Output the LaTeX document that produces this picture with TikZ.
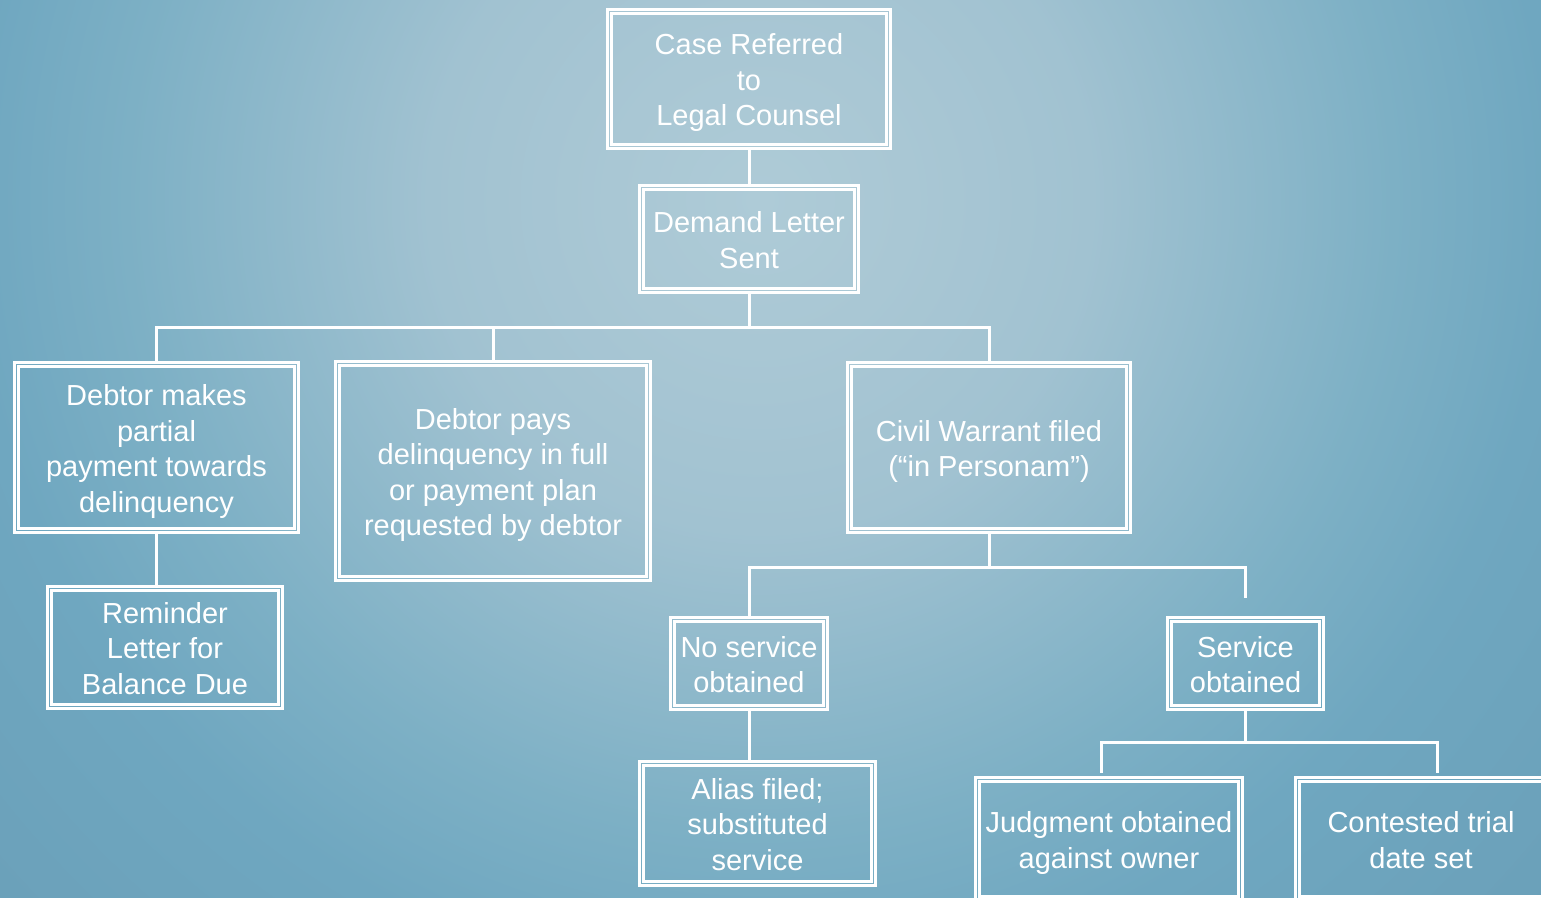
\documentclass[tikz,border=0pt]{standalone}
\usepackage{fontspec}
\setmainfont{Liberation Sans}
\definecolor{bgA}{HTML}{AECBD7}
\definecolor{bgB}{HTML}{A9C7D4}
\definecolor{bgC}{HTML}{A1C2D1}
\definecolor{bgD}{HTML}{7DB0C5}
\definecolor{bgE}{HTML}{6FA7C0}
\definecolor{bgF}{HTML}{6A9FB8}
\pgfdeclareradialshading{bgshade}{\pgfpoint{0bp}{0bp}}{color(0bp)=(bgA); color(3.1bp)=(bgB); color(6.9bp)=(bgC); color(13.2bp)=(bgD); color(16.5bp)=(bgE); color(22.9bp)=(bgF); color(25bp)=(bgF); color(50bp)=(bgF)}
\newcommand\mytop{\rule{0pt}{29.2pt}}
\begin{document}
\begin{tikzpicture}[x=1pt,y=-1pt,
  box/.style={draw=white, line width=3pt, text=white, align=center,
    font=\fontsize{29}{35.5}\selectfont, inner sep=0pt,
    execute at end node={\rule[-6.3pt]{0pt}{0pt}}},
  conn/.style={draw=white, line width=3pt},
  inbox/.style={draw=white, line width=2.5pt}]
\useasboundingbox (0,0) rectangle (1541,897);
\clip (0,0) rectangle (1541,897);
\fill[bgF] (0,0) rectangle (1541,897);
\shade[shading=bgshade] (760,200) circle (1200);

\node[box, minimum width=283pt, minimum height=139pt] (case) at (749,79) {\mytop Case Referred\\to\\Legal Counsel};
\node[box, minimum width=219pt, minimum height=107pt] (demand) at (749,239) {\mytop Demand Letter\\Sent};
\node[box, minimum width=284pt, minimum height=170pt] (partial) at (156.5,447.5) {\mytop Debtor makes\\partial\\payment towards\\delinquency};
\node[box, minimum width=315pt, minimum height=219pt] (pays) at (493,471) {\mytop Debtor pays\\delinquency in full\\or payment plan\\requested by debtor};
\node[box, minimum width=283pt, minimum height=170pt] (civil) at (989,447.5) {\mytop Civil Warrant filed\\(“in Personam”)};
\node[box, minimum width=235pt, minimum height=122pt] (reminder) at (165,647.5) {\mytop Reminder\\Letter for\\Balance Due};
\node[box, minimum width=157pt, minimum height=92pt] (noserv) at (749,663.5) {\mytop No service\\obtained};
\node[box, minimum width=156pt, minimum height=92pt] (serv) at (1245.5,663.5) {\mytop Service\\obtained};
\node[box, minimum width=236pt, minimum height=124pt] (alias) at (757.5,823.5) {\mytop Alias filed;\\substituted\\service};
\node[box, minimum width=267pt, minimum height=123pt] (judg) at (1109,839) {\mytop Judgment obtained\\against owner};
\node[box, minimum width=251pt, minimum height=123pt] (cont) at (1421,839) {\mytop Contested trial\\date set};

\foreach \n in {case,demand,partial,pays,civil,reminder,noserv,serv,alias,judg,cont}
  \draw[inbox] ([shift={(5.5,5.5)}]\n.north west) rectangle ([shift={(-5.5,-5.5)}]\n.south east);

\coordinate (busA) at (749,327);
\coordinate (busB) at (989,567);
\coordinate (servEnd) at (1245.5,598);
\coordinate (busC) at (1245.5,742);
\coordinate (judgEnd) at (1101,773);
\coordinate (contEnd) at (1437,773);

\draw[conn] (case.south) -- (demand.north);
\draw[conn] (demand.south) -- (busA);
\draw[conn] (busA) -| (partial.north);
\draw[conn] (busA) -| (civil.north);
\draw[conn] (pays.north) -- (pays.north |- busA);
\draw[conn] (partial.south) -- (partial.south |- reminder.north);
\draw[conn] (civil.south) -- (busB);
\draw[conn] (busB) -| (noserv.north);
\draw[conn] (busB) -| (servEnd);
\draw[conn] (noserv.south) -- (noserv.south |- alias.north);
\draw[conn] (serv.south) -- (busC);
\draw[conn] (busC) -| (judgEnd);
\draw[conn] (busC) -| (contEnd);
\end{tikzpicture}
\end{document}
